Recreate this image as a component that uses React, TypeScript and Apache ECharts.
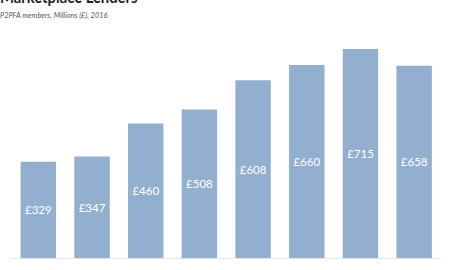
import React, { useEffect, useRef } from "react";
import * as echarts from "echarts";

const categories = ["Q1 2015", "Q2 2015", "Q3 2015", "Q4 2015", "Q1 2016", "Q2 2016", "Q3 2016", "Q4 2016"];
const values = [329, 347, 460, 508, 608, 660, 715, 658];
const titleText = "Marketplace Lenders";
const subtitleText = "P2PFA members, Millions (£), 2016";

export default function App() {
  const ref = useRef<HTMLDivElement>(null);
  useEffect(() => {
    if (!ref.current) return;
    const chart = echarts.init(ref.current, undefined, { renderer: "svg" });
    chart.setOption({
      animation: false,
      backgroundColor: "#ffffff",
      graphic: [
        {
          type: "text",
          x: 0,
          y: -12,
          scaleX: 0.87,
          style: {
            text: titleText,
            font: "bold 17px Lato, sans-serif",
            fill: "#1f1f1f",
          },
        },
        {
          type: "text",
          x: 0,
          y: 10,
          scaleX: 0.87,
          style: {
            text: subtitleText,
            font: "italic 8.5px Lato, sans-serif",
            fill: "#555555",
          },
        },
      ],
      grid: { left: 11.5, right: 9, top: 24.2, bottom: 32, containLabel: false },
      xAxis: {
        type: "category",
        data: categories,
        axisLine: { show: true, lineStyle: { color: "#e6e6e6", width: 1 } },
        axisTick: { show: false },
        axisLabel: { color: "#b5b5b5", fontSize: 10, margin: 12, fontFamily: "Lato, sans-serif" },
      },
      yAxis: {
        type: "value",
        min: 0,
        max: 800,
        show: false,
        splitLine: { show: false },
      },
      series: [
        {
          type: "bar",
          data: values,
          barCategoryGap: "34%",
          itemStyle: { color: "#92afd0" },
          label: {
            show: true,
            position: "inside",
            color: "#ffffff",
            fontSize: 11.5,
            fontFamily: "Lato, sans-serif",
            formatter: (p: any) => "£" + p.value,
          },
        },
      ],
    });
    return () => chart.dispose();
  }, []);
  return (
    <div
      ref={ref}
      style={{ position: "fixed", left: 0, top: 0, width: 450, height: 290 }}
    />
  );
}
